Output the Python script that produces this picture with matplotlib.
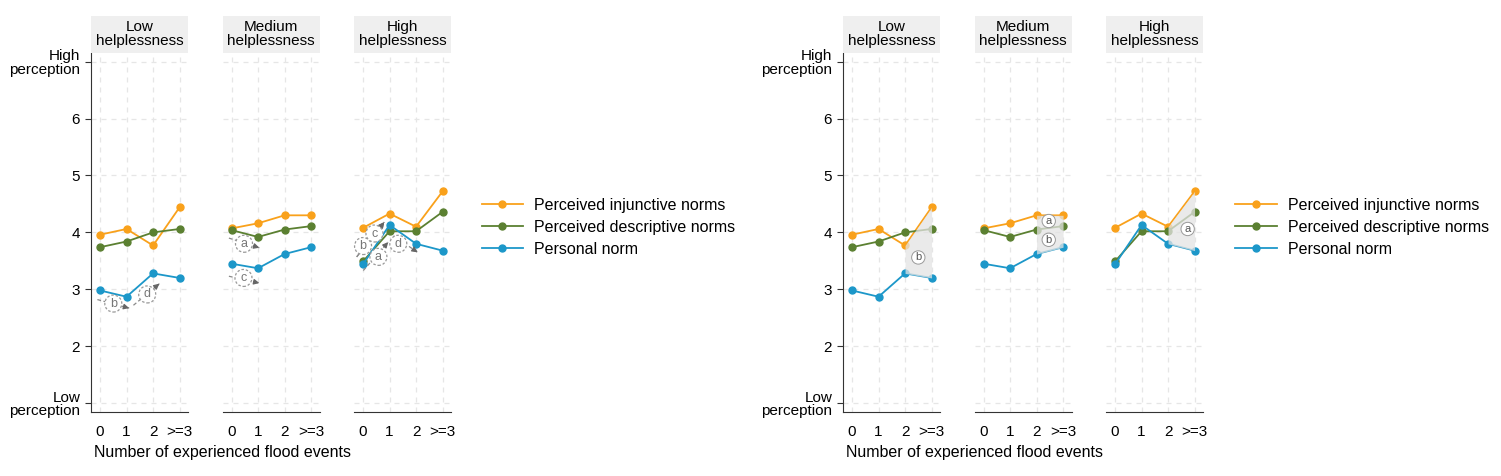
import matplotlib
matplotlib.use("Agg")
import matplotlib.pyplot as plt

plt.rcParams['font.family'] = ['Liberation Sans', 'DejaVu Sans']

# data
groups = ['Low\nhelplessness', 'Medium\nhelplessness', 'High\nhelplessness']
x_labels = ['0', '1', '2', '>=3']
y_ticks = [1, 2, 3, 4, 5, 6, 7]
y_labels = ['Low\nperception', '2', '3', '4', '5', '6', 'High\nperception']

series_names = ['Perceived injunctive norms', 'Perceived descriptive norms', 'Personal norm']
series_colors = ['#F9A11B', '#5B8031', '#1C97C9']

injunctive = [[3.96, 4.06, 3.77, 4.44],
              [4.07, 4.16, 4.30, 4.30],
              [4.08, 4.33, 4.10, 4.72]]
descriptive = [[3.74, 3.84, 4.00, 4.06],
               [4.04, 3.92, 4.05, 4.11],
               [3.49, 4.02, 4.02, 4.36]]
personal = [[2.98, 2.87, 3.28, 3.20],
            [3.45, 3.37, 3.62, 3.74],
            [3.44, 4.13, 3.80, 3.68]]
series = [injunctive, descriptive, personal]

# left chart: dashed arrows with circled letters (panel, letter, start, end, label position)
arrows_left = [
    (0, 'b', (-0.10, 2.82), (1.10, 2.67), (0.50, 2.75)),
    (0, 'd', (1.26, 2.72), (2.24, 3.10), (1.78, 2.91)),
    (1, 'a', (-0.10, 3.90), (1.05, 3.73), (0.47, 3.80)),
    (1, 'c', (-0.10, 3.23), (1.05, 3.11), (0.45, 3.20)),
    (2, 'b', (-0.24, 3.57), (0.80, 4.18), (0.00, 3.76)),
    (2, 'c', (-0.24, 3.57), (0.80, 4.18), (0.43, 3.98)),
    (2, 'a', (0.01, 3.33), (0.95, 3.83), (0.58, 3.57)),
    (2, 'd', (1.15, 3.94), (2.06, 3.65), (1.33, 3.80)),
]

# right chart: shaded span between injunctive and personal norms, circled letters
shade_from, shade_to = 2, 3
labels_right = [
    (0, 'b', (2.50, 3.56)),
    (1, 'a', (2.46, 4.20)),
    (1, 'b', (2.46, 3.87)),
    (2, 'a', (2.74, 4.06)),
]

W, H = 1501, 476
fig = plt.figure(figsize=(W / 100, H / 100), dpi=100)

ax_top, ax_bot = 52.5, 412.3
strip_top = 15.7
panel_w = 97
panel_step = 131.5
group_left = [91.3, 843.3]
legend_x = [481.7, 1235]


def px_rect(x0, y0, w, h):
    return [x0 / W, 1 - (y0 + h) / H, w / W, h / H]


xs = list(range(len(x_labels)))

for g, gx in enumerate(group_left):
    for p in range(3):
        left = gx + p * panel_step
        ax = fig.add_axes(px_rect(left, ax_top, panel_w, ax_bot - ax_top))
        ax.set_xlim(-0.33, 3.33)
        ax.set_ylim(0.84, 7.16)
        ax.set_xticks(xs)
        ax.set_xticklabels(x_labels, fontsize=11)
        ax.set_yticks(y_ticks)
        ax.grid(True, color='#e6e6e6', ls=(0, (4, 4)), lw=0.9)
        ax.set_axisbelow(True)
        ax.tick_params(axis='x', length=0, pad=9)
        for s in ['top', 'right']:
            ax.spines[s].set_visible(False)
        ax.spines['bottom'].set_color('#333333')
        if p == 0:
            ax.set_yticklabels(y_labels, fontsize=11)
            for t in ax.get_yticklabels():
                t.set_linespacing(0.95)
            ax.tick_params(axis='y', length=4, color='#333333', pad=4)
            ax.spines['left'].set_color('#333333')
        else:
            ax.spines['left'].set_visible(False)
            ax.tick_params(axis='y', length=0, labelleft=False)

        handles = []
        for s_vals, name, col in zip(series, series_names, series_colors):
            h, = ax.plot(xs, s_vals[p], color=col, lw=1.3, marker='o', ms=5,
                         label=name, zorder=3)
            handles.append(h)

        if g == 0:
            for pp, letter, start, end, lab in arrows_left:
                if pp != p:
                    continue
                ax.plot([start[0], end[0]], [start[1], end[1]], color='#8a8a8a',
                        lw=0.9, ls=(0, (3, 2)), zorder=4)
                back = (end[0] - 0.18 * (end[0] - start[0]),
                        end[1] - 0.18 * (end[1] - start[1]))
                ax.annotate('', xy=end, xytext=back,
                            arrowprops=dict(arrowstyle='-|>', color='#666666', lw=0.9,
                                            mutation_scale=8, shrinkA=0, shrinkB=0),
                            zorder=4)
                ax.text(lab[0], lab[1], letter, fontsize=9, color='#777777',
                        ha='center', va='center', zorder=5,
                        bbox=dict(boxstyle='circle,pad=0.2', fc='white',
                                  ec='#999999', ls=(0, (2, 1.5)), lw=0.9))
        else:
            seg = xs[shade_from:shade_to + 1]
            ax.fill_between(seg, injunctive[p][shade_from:shade_to + 1],
                            personal[p][shade_from:shade_to + 1],
                            color='#e3e3e3', alpha=0.75, lw=0, zorder=3.5)
            for pp, letter, lab in labels_right:
                if pp != p:
                    continue
                ax.text(lab[0], lab[1], letter, fontsize=8, color='#555555',
                        ha='center', va='center', zorder=5,
                        bbox=dict(boxstyle='circle,pad=0.15', fc='white',
                                  ec='#999999', lw=0.7))

        # strip header
        sax = fig.add_axes(px_rect(left, strip_top, panel_w, ax_top - strip_top))
        sax.set_facecolor('#efefef')
        sax.set_xticks([])
        sax.set_yticks([])
        for s in sax.spines.values():
            s.set_visible(False)
        sax.text(0.5, 0.5, groups[p], ha='center', va='center', fontsize=11,
                 linespacing=1.0, transform=sax.transAxes)

    fig.text((gx + 3) / W, 1 - 452 / H, 'Number of experienced flood events',
             ha='left', va='center', fontsize=11.5)

    fig.legend(handles=handles, loc='center left',
               bbox_to_anchor=(legend_x[g] / W, 1 - 227.3 / H),
               frameon=False, fontsize=11.5, handlelength=2.6, handletextpad=0.7,
               labelspacing=0.45, borderpad=0, borderaxespad=0)

fig.savefig('out.png', dpi=100)
